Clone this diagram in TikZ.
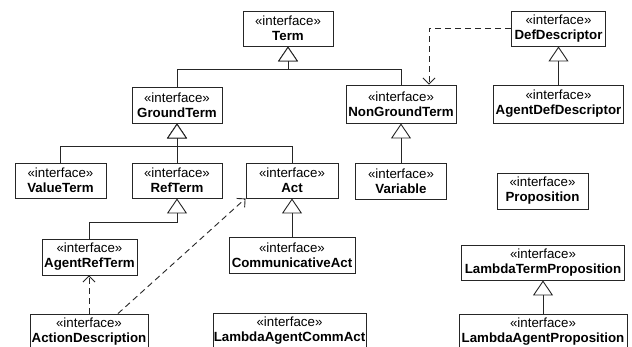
\documentclass[tikz,border=0pt]{standalone}
\usepackage{fontspec}
\setmainfont{Liberation Sans}
\usetikzlibrary{arrows.meta}
\begin{document}
\begin{tikzpicture}[x=1pt,y=-1pt,
  box/.style={draw=black!85, line width=0.9pt, fill=white, inner sep=0pt, align=center,
    font=\fontsize{13.3}{15}\selectfont},
  gen/.style={draw=black!85, line width=0.9pt, -{Triangle[open,length=15pt,width=20pt,fill=white]}},
  dep/.style={draw=black!85, line width=0.9pt, dash pattern=on 6pt off 4pt, -{Straight Barb[length=6pt,width=12pt]}}]
\clip (0,0) rectangle (632,347);
\fill[white] (0,0) rectangle (632,347);
\newcommand{\iface}[1]{«interface»\\\textbf{#1}}
% boxes
\node[box, minimum width=90pt, minimum height=35pt] (term) at (288,28.5) {\iface{Term}};
\node[box, minimum width=94pt, minimum height=35pt] (dd) at (558.5,28.5) {\iface{DefDescriptor}};
\node[box, minimum width=90pt, minimum height=36pt] (gt) at (177,105) {\iface{GroundTerm}};
\node[box, minimum width=110pt, minimum height=38pt] (ngt) at (401,104) {\iface{NonGroundTerm}};
\node[box, minimum width=130pt, minimum height=38pt] (add) at (558.5,104) {\iface{AgentDefDescriptor}};
\node[box, minimum width=91pt, minimum height=35pt] (vt) at (60.5,180.5) {\iface{ValueTerm}};
\node[box, minimum width=90pt, minimum height=35pt] (rt) at (177,180.5) {\iface{RefTerm}};
\node[box, minimum width=92pt, minimum height=35pt] (act) at (292,180.5) {\iface{Act}};
\node[box, minimum width=91pt, minimum height=36pt] (var) at (401,181) {\iface{Variable}};
\node[box, minimum width=91pt, minimum height=36pt] (prop) at (542.5,191) {\iface{Proposition}};
\node[box, minimum width=95pt, minimum height=36pt] (arf) at (89.5,257) {\iface{AgentRefTerm}};
\node[box, minimum width=126pt, minimum height=36pt] (ca) at (292,255) {\iface{CommunicativeAct}};
\node[box, minimum width=163pt, minimum height=35pt] (ltp) at (543,262.5) {\iface{LambdaTermProposition}};
\node[box, minimum width=118pt, minimum height=36pt] (ad) at (89,332) {\iface{ActionDescription}};
\node[box, minimum width=153pt, minimum height=36pt] (lac) at (289.5,331) {\iface{LambdaAgentCommAct}};
\node[box, minimum width=168pt, minimum height=36pt] (lap) at (543,332) {\iface{LambdaAgentProposition}};
% helper coordinates
\coordinate (bar1) at (0,69);
\coordinate (bar2) at (0,146);
\coordinate (bar3) at (0,222);
\coordinate (c1) at (429,0);
\coordinate (c2) at (118,0);
% generalizations
\draw[gen] (gt.north) |- (term.south |- bar1) -- (term.south);
\draw[gen] (ngt.north) |- (term.south |- bar1) -- (term.south);
\draw[gen] (vt.north) |- (gt.south |- bar2) -- (gt.south);
\draw[gen] (rt.north) -- (gt.south);
\draw[gen] (act.north) |- (gt.south |- bar2) -- (gt.south);
\draw[gen] (arf.north) |- (rt.south |- bar3) -- (rt.south);
\draw[gen] (ca.north) -- (act.south);
\draw[gen] (var.north) -- (ngt.south);
\draw[gen] (add.north) -- (dd.south);
\draw[gen] (lap.north) -- (ltp.south);
% dependencies
\draw[dep] (dd.west) -| (c1 |- ngt.north);
\draw[dep] (ad.north) -- (ad.north |- arf.south);
\draw[dep] (ad.north -| c2) -- (act.south west);
\end{tikzpicture}
\end{document}
